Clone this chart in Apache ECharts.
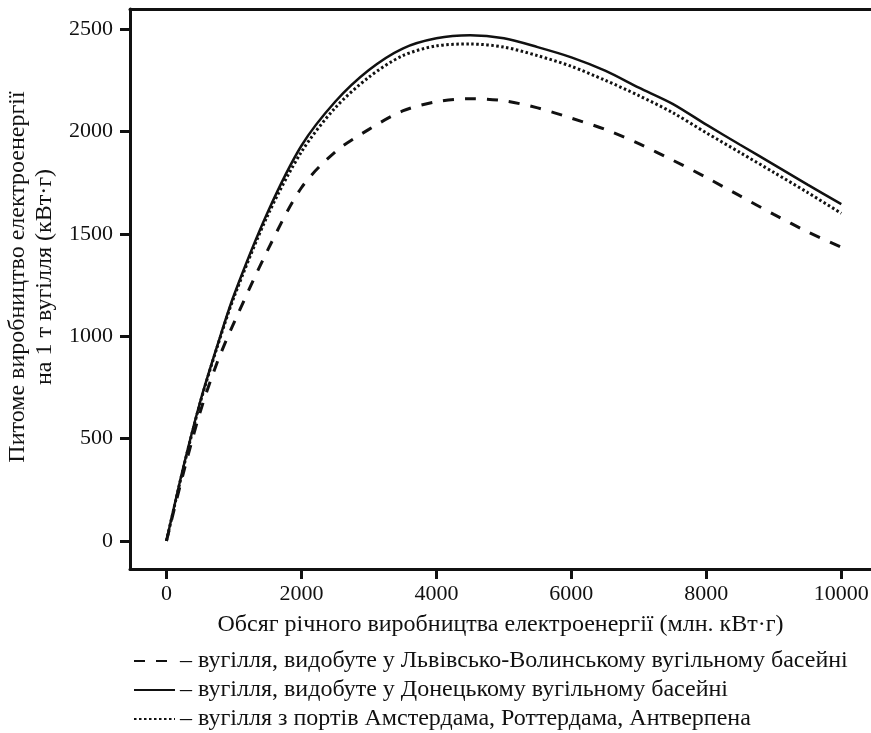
<!DOCTYPE html>
<html>
<head>
<meta charset="utf-8">
<script src="https://cdn.jsdelivr.net/npm/echarts@6/dist/echarts.min.js"></script>
<style>
  body { margin: 0; padding: 0; background: #fff; }
  #main { width: 871px; height: 733px; }
</style>
</head>
<body>
<div id="main"></div>
<script>
// обсяг виробництва, млн. кВт·г
const output = [0, 250, 500, 750, 1000, 1500, 2000, 2500, 3000, 3500, 4000, 4500,
  5000, 5500, 6000, 6500, 7000, 7500, 8000, 8500, 9000, 9500, 10000]
const lviv = [0, 330, 630, 870, 1065, 1420, 1725, 1900, 2010, 2100, 2145, 2160,
  2150, 2115, 2065, 2010, 1940, 1860, 1775, 1685, 1595, 1510, 1435]
const donetsk = [0, 360, 680, 950, 1200, 1605, 1930, 2145, 2300, 2405, 2455, 2470,
  2455, 2412, 2362, 2297, 2214, 2135, 2033, 1935, 1838, 1740, 1645]
const ports = [0, 355, 675, 945, 1190, 1590, 1900, 2115, 2265, 2370, 2418, 2427,
  2412, 2370, 2318, 2250, 2175, 2092, 1993, 1897, 1800, 1702, 1600]
const xTicks = [0, 2000, 4000, 6000, 8000, 10000]
const yTicks = [0, 500, 1000, 1500, 2000, 2500]
const names = [
  'вугілля, видобуте у Львівсько-Волинському вугільному басейні',
  'вугілля, видобуте у Донецькому вугільному басейні',
  'вугілля з портів Амстердама, Роттердама, Антверпена'
]

const font = 'Liberation Serif'
const ink = '#111'

function pairs (ys) {
  return output.map(function (x, i) { return [x, ys[i]] })
}
function plain (v) {
  return String(v)
}

let chart = echarts.init(document.getElementById('main'))
chart.setOption({
  animation: false,
  color: [ink, ink, ink],
  textStyle: { fontFamily: font, color: ink },
  grid: { left: 130, right: 0, top: 9, bottom: 164, outerBoundsMode: 'none', containLabel: false },
  legend: {
    orient: 'vertical',
    left: 133,
    top: 648,
    padding: 0,
    itemWidth: 41,
    itemHeight: 12,
    itemGap: 3,
    itemStyle: { opacity: 0 },
    textStyle: { fontFamily: font, fontSize: 24, color: ink, lineHeight: 26 },
    formatter: function (n) { return '– ' + n },
    data: names
  },
  xAxis: [{
    type: 'value',
    min: -540,
    max: 10440,
    name: 'Обсяг річного виробництва електроенергії (млн. кВт·г)',
    nameLocation: 'middle',
    nameGap: 44,
    nameTextStyle: { fontFamily: font, fontSize: 24, color: ink },
    axisLine: { show: true, onZero: false, lineStyle: { color: ink, width: 3 } },
    axisTick: { show: true, length: 10, customValues: xTicks, lineStyle: { color: ink, width: 3 } },
    axisLabel: { customValues: xTicks, formatter: plain, margin: 14, fontFamily: font, fontSize: 22, color: ink },
    splitLine: { show: false }
  }, {
    type: 'value',
    position: 'top',
    min: -540,
    max: 10440,
    axisLine: { show: true, onZero: false, lineStyle: { color: ink, width: 3 } },
    axisTick: { show: false },
    axisLabel: { show: false },
    splitLine: { show: false }
  }],
  yAxis: {
    type: 'value',
    min: -137,
    max: 2598,
    name: 'Питоме виробництво електроенергії\nна 1 т вугілля (кВт·г)',
    nameLocation: 'middle',
    nameGap: 66,
    nameRotate: 90,
    nameTextStyle: { fontFamily: font, fontSize: 24, color: ink, lineHeight: 27, padding: [0, 0, 0, 24] },
    axisLine: { show: true, onZero: false, lineStyle: { color: ink, width: 3 } },
    axisTick: { show: true, length: 10, customValues: yTicks, lineStyle: { color: ink, width: 3 } },
    axisLabel: { customValues: yTicks, formatter: plain, margin: 17, fontFamily: font, fontSize: 22, color: ink },
    splitLine: { show: false }
  },
  series: [{
    name: names[0],
    type: 'line',
    data: pairs(lviv),
    smooth: 0.3,
    symbol: 'none',
    lineStyle: { color: ink, width: 3, type: [11, 11] }
  }, {
    name: names[1],
    type: 'line',
    data: pairs(donetsk),
    smooth: 0.3,
    symbol: 'none',
    lineStyle: { color: ink, width: 2.5 }
  }, {
    name: names[2],
    type: 'line',
    data: pairs(ports),
    smooth: 0.3,
    symbol: 'none',
    lineStyle: { color: ink, width: 3, type: [2.5, 2.5] }
  }]
})
</script>
</body>
</html>
